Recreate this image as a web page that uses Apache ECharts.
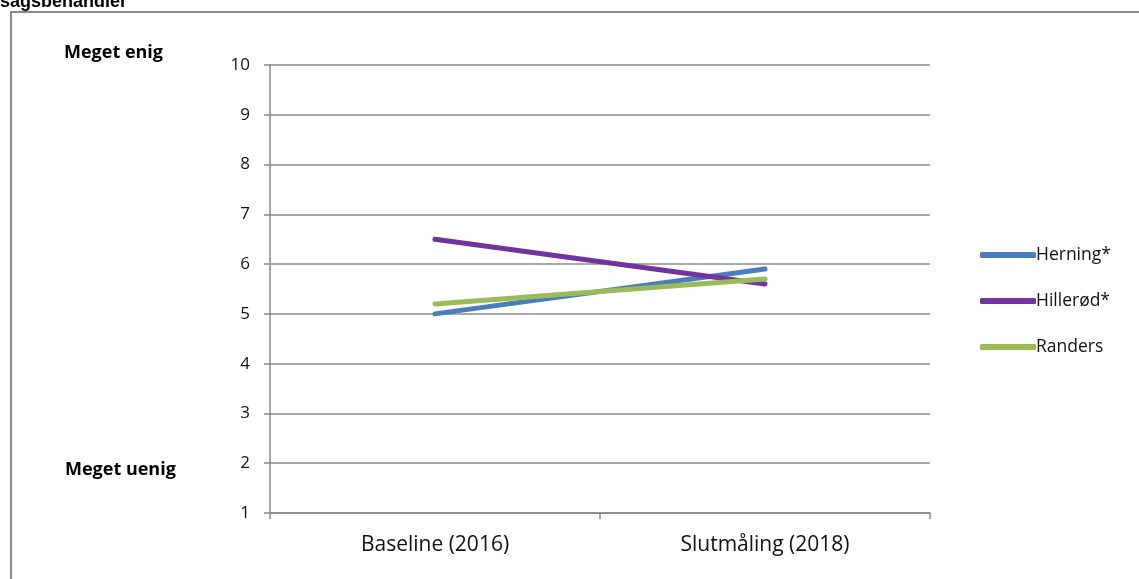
<!DOCTYPE html>
<html>
<head>
<meta charset="utf-8">
<title>sagsbehandler</title>
<script src="https://cdn.jsdelivr.net/npm/echarts@6/dist/echarts.min.js"></script>
<style>
  html, body { margin: 0; padding: 0; background: #fff; }
  #chart { width: 1139px; height: 579px; }
</style>
</head>
<body>
<div id="chart"></div>
<script>
// Survey measurement rounds
const categories = ['Baseline (2016)', 'Slutmåling (2018)'];

// Average score per municipality (scale 1–10)
const herning = [5.0, 5.9];
const hilleroed = [6.5, 5.6];
const randers = [5.2, 5.7];

const seriesNames = ['Herning*', 'Hillerød*', 'Randers'];
const seriesColors = ['#4a7ebb', '#7232a0', '#9bbb59'];

const titleText = 'sagsbehandler';
const topNote = 'Meget enig';
const bottomNote = 'Meget uenig';

const chart = echarts.init(document.getElementById('chart'));

const labelFont = 'Open Sans, Noto Sans, sans-serif';

function lineSeries(name, data, color) {
  return {
    name: name,
    type: 'line',
    data: data,
    symbol: 'none',
    lineStyle: { color: color, width: 5, cap: 'round' },
    itemStyle: { color: color },
    emphasis: { disabled: true }
  };
}

chart.setOption({
  animation: false,
  backgroundColor: '#ffffff',
  grid: { left: 270, top: 65, width: 660, height: 448 },
  xAxis: {
    type: 'category',
    data: categories,
    boundaryGap: true,
    axisLine: { show: true, lineStyle: { color: '#888888', width: 1.5 } },
    axisTick: { show: true, length: 6, lineStyle: { color: '#888888', width: 1.5 } },
    axisLabel: { color: '#111', fontSize: 21, fontFamily: labelFont, margin: 22 },
    splitLine: { show: false }
  },
  yAxis: {
    type: 'value',
    min: 1,
    max: 10,
    interval: 1,
    axisLine: { show: true, lineStyle: { color: '#888888', width: 1.5 } },
    axisTick: { show: true, length: 6, lineStyle: { color: '#888888', width: 1.5 } },
    axisLabel: { color: '#111', fontSize: 17, fontFamily: labelFont, margin: 20 },
    splitLine: { show: true, lineStyle: { color: '#8c8c8c', width: 1.5 } }
  },
  legend: {
    orient: 'vertical',
    left: 975,
    top: 241,
    itemWidth: 56,
    itemHeight: 6,
    itemGap: 28,
    icon: 'roundRect',
    data: seriesNames,
    textStyle: { color: '#111', fontSize: 17.5, fontFamily: labelFont, padding: [0, 0, 0, -5] }
  },
  series: [
    lineSeries(seriesNames[0], herning, seriesColors[0]),
    lineSeries(seriesNames[1], hilleroed, seriesColors[1]),
    lineSeries(seriesNames[2], randers, seriesColors[2])
  ],
  graphic: [
    {
      type: 'rect',
      shape: { x: 11, y: 12, width: 1200, height: 700 },
      style: { fill: 'none', stroke: '#8a8a8a', lineWidth: 2 },
      silent: true
    },
    {
      type: 'text',
      left: 0,
      top: -7,
      style: { text: titleText, font: 'bold 18px "Liberation Sans", Arial, sans-serif', fill: '#000' }
    },
    {
      type: 'text',
      left: 64,
      top: 44,
      style: { text: topNote, font: 'bold 18px "Open Sans", "Noto Sans", sans-serif', fill: '#000' }
    },
    {
      type: 'text',
      left: 65,
      top: 461,
      style: { text: bottomNote, font: 'bold 18px "Open Sans", "Noto Sans", sans-serif', fill: '#000' }
    }
  ]
});
</script>
</body>
</html>
